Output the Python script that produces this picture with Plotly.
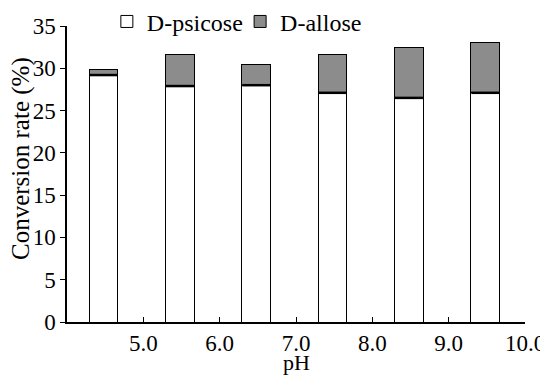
import plotly.graph_objects as go

# bar centre positions on the pH axis and values
ph_pos = [4.48, 5.48, 6.48, 7.48, 8.48, 9.48]
psicose = [29.2, 27.9, 28.0, 27.1, 26.5, 27.1]
allose = [0.7, 3.7, 2.5, 4.5, 6.0, 5.9]
tick_vals = [5, 6, 7, 8, 9, 10]
tick_text = ["5.0", "6.0", "7.0", "8.0", "9.0", "10.0"]

FONT = "Liberation Serif"

fig = go.Figure()
fig.add_trace(go.Bar(
    x=ph_pos, y=psicose, name="D-psicose", width=0.375, legend="legend",
    marker=dict(color="white", line=dict(color="black", width=1)),
))
fig.add_trace(go.Bar(
    x=ph_pos, y=allose, name="D-allose", width=0.375, legend="legend2",
    marker=dict(color="#8c8c8c", line=dict(color="black", width=1)),
))
# thick boundary line between the two stacked segments
fig.add_trace(go.Scatter(
    x=ph_pos, y=psicose, mode="markers", showlegend=False, hoverinfo="skip",
    marker=dict(symbol="line-ew", size=20, line=dict(color="black", width=2.5)),
))

legend_style = dict(
    orientation="h", y=1.014, xanchor="left", yanchor="middle",
    bgcolor="rgba(0,0,0,0)", font=dict(family=FONT, size=24, color="black"),
    itemwidth=30,
)

# the page body adds an 8px margin, so the figure is 8px smaller
fig.update_layout(
    barmode="stack",
    width=540, height=367,
    margin=dict(l=59, r=23, t=18, b=53, autoexpand=False),
    paper_bgcolor="white", plot_bgcolor="white",
    font=dict(family=FONT, size=23, color="black"),
    showlegend=True,
    legend=dict(x=0.087, **legend_style),
    legend2=dict(x=0.378, **legend_style),
    annotations=[
        dict(text="pH", xref="paper", yref="paper", x=0.5, y=0, yshift=-40,
             xanchor="center", yanchor="middle", showarrow=False,
             font=dict(family=FONT, size=22, color="black")),
        dict(text="Conversion rate (%)", xref="paper", yref="paper", x=0, y=0.5,
             xshift=-46, yshift=15, textangle=-90,
             xanchor="center", yanchor="middle", showarrow=False,
             font=dict(family=FONT, size=25, color="black")),
    ],
)
fig.update_xaxes(
    range=[4, 10], tickvals=tick_vals, ticktext=tick_text,
    showline=True, linecolor="black", linewidth=1.5,
    ticks="inside", ticklen=5, tickcolor="black", showgrid=False, zeroline=False,
    tickfont=dict(family=FONT, size=23, color="black"),
)
fig.update_yaxes(
    range=[0, 35], tickvals=[0, 5, 10, 15, 20, 25, 30, 35],
    showline=True, linecolor="black", linewidth=1.5,
    ticks="outside", ticklen=5, tickcolor="black", showgrid=False, zeroline=False,
    tickfont=dict(family=FONT, size=23, color="black"),
)

fig.write_html("out.html")
